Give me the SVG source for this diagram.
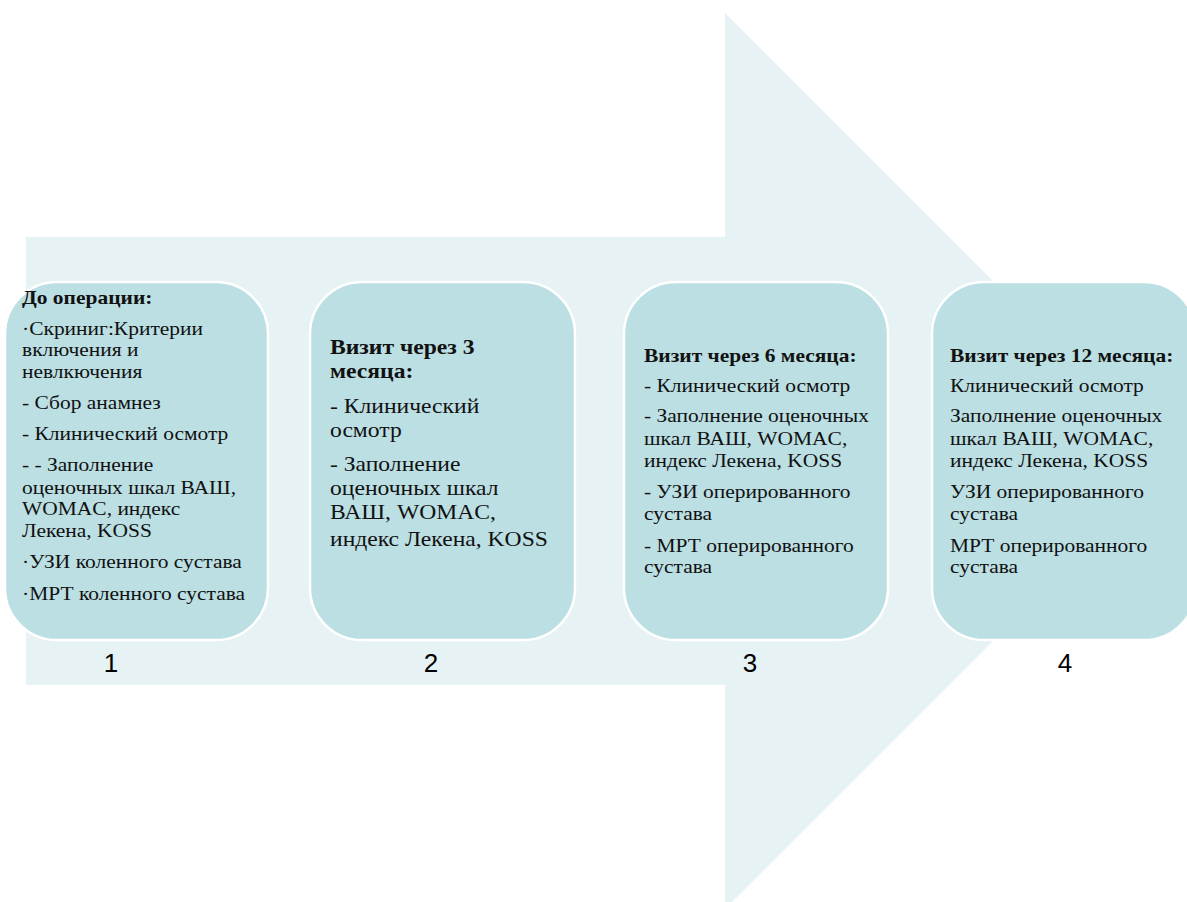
<svg xmlns="http://www.w3.org/2000/svg" width="1187" height="902" viewBox="0 0 1187 902">
<style>
.box{fill:#BBDFE3;stroke:#FFFFFF;stroke-width:2.5}
.t{font-family:"Liberation Serif","Times New Roman",serif;fill:#111;font-size:19px}
.t2{font-family:"Liberation Serif","Times New Roman",serif;fill:#111;font-size:20.9px}
.b{font-weight:bold}
.num{font-family:"Liberation Sans",Arial,sans-serif;font-size:26px;fill:#000;text-anchor:middle}
</style>
<rect width="1187" height="902" fill="#FFFFFF"/>
<g id="arrow">
<polygon points="26,237 725,237 725,13 1173,461 725,909 725,685 26,685" fill="#E6F2F4"/>
</g>
<g id="connectors"></g>
<g id="node1">
<rect class="box" x="5" y="282" width="263" height="358" rx="52"/>
<text class="t" transform="translate(22,0) scale(1.13,1)"><tspan class="b" x="0" y="304">До операции:</tspan><tspan x="0" y="335">·Скриниг:Критерии</tspan><tspan x="0" y="356">включения и</tspan><tspan x="0" y="378">невлкючения</tspan><tspan x="0" y="409">- Сбор анамнез</tspan><tspan x="0" y="440">- Клинический осмотр</tspan><tspan x="0" y="471">- - Заполнение</tspan><tspan x="0" y="494">оценочных шкал ВАШ,</tspan><tspan x="0" y="515">WOMAC, индекс</tspan><tspan x="0" y="537">Лекена, KOSS</tspan><tspan x="0" y="568">·УЗИ коленного сустава</tspan><tspan x="0" y="600">·МРТ коленного сустава</tspan></text>
<text class="num" x="111" y="672">1</text>
</g>
<g id="node2">
<rect class="box" x="310" y="282" width="265" height="358" rx="52"/>
<text class="t2" transform="translate(330,0) scale(1.13,1)"><tspan class="b" x="0" y="354">Визит через 3</tspan><tspan class="b" x="0" y="378">месяца:</tspan><tspan x="0" y="413">- Клинический</tspan><tspan x="0" y="437">осмотр</tspan><tspan x="0" y="471">- Заполнение</tspan><tspan x="0" y="495">оценочных шкал</tspan><tspan x="0" y="519">ВАШ, WOMAC,</tspan><tspan x="0" y="546">индекс Лекена, KOSS</tspan></text>
<text class="num" x="431" y="672">2</text>
</g>
<g id="node3">
<rect class="box" x="624" y="282" width="264" height="358" rx="52"/>
<text class="t" transform="translate(644,0) scale(1.13,1)"><tspan class="b" x="0" y="362">Визит через 6 месяца:</tspan><tspan x="0" y="392">- Клинический осмотр</tspan><tspan x="0" y="422">- Заполнение оценочных</tspan><tspan x="0" y="445">шкал ВАШ, WOMAC,</tspan><tspan x="0" y="467">индекс Лекена, KOSS</tspan><tspan x="0" y="498">- УЗИ оперированного</tspan><tspan x="0" y="520">сустава</tspan><tspan x="0" y="552">- МРТ оперированного</tspan><tspan x="0" y="573">сустава</tspan></text>
<text class="num" x="750" y="672">3</text>
</g>
<g id="node4">
<rect class="box" x="932" y="282" width="264" height="358" rx="52"/>
<text class="t" transform="translate(950,0) scale(1.13,1)"><tspan class="b" x="0" y="362">Визит через 12 месяца:</tspan><tspan x="0" y="392">Клинический осмотр</tspan><tspan x="0" y="422">Заполнение оценочных</tspan><tspan x="0" y="445">шкал ВАШ, WOMAC,</tspan><tspan x="0" y="467">индекс Лекена, KOSS</tspan><tspan x="0" y="498">УЗИ оперированного</tspan><tspan x="0" y="520">сустава</tspan><tspan x="0" y="552">МРТ оперированного</tspan><tspan x="0" y="573">сустава</tspan></text>
<text class="num" x="1065" y="672">4</text>
</g>
</svg>
